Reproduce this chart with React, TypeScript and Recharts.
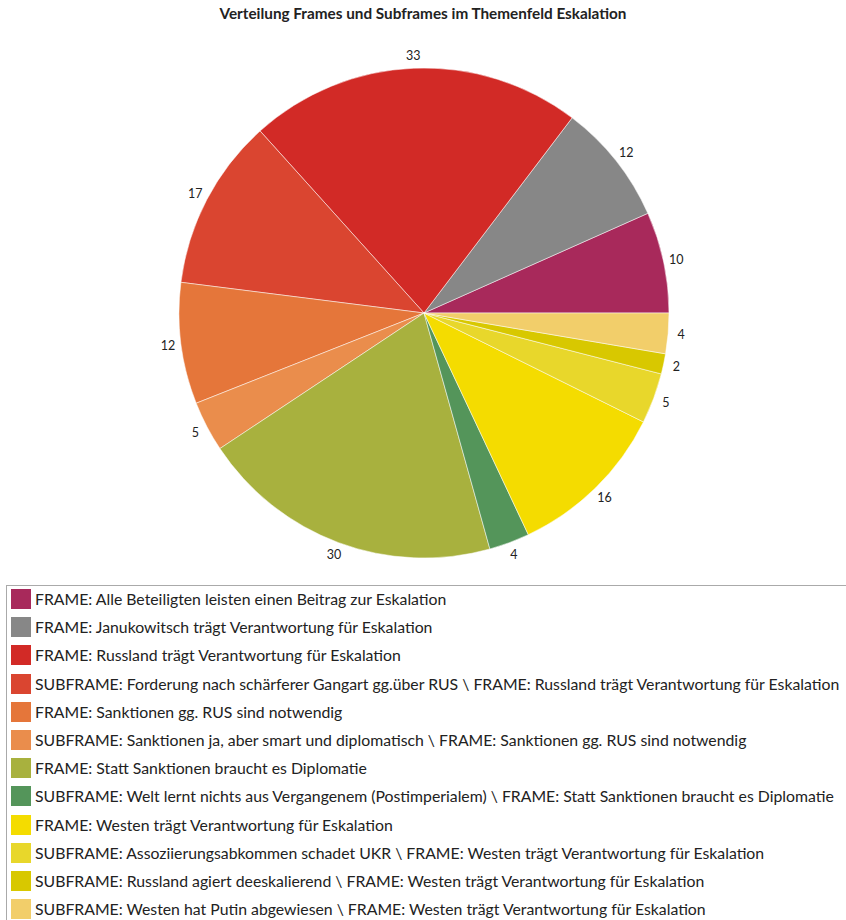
import React from "react";
import { PieChart, Pie, Cell } from "recharts";

const labels = [
  "FRAME: Alle Beteiligten leisten einen Beitrag zur Eskalation",
  "FRAME: Janukowitsch trägt Verantwortung für Eskalation",
  "FRAME: Russland trägt Verantwortung für Eskalation",
  "SUBFRAME: Forderung nach schärferer Gangart gg.über RUS \\ FRAME: Russland trägt Verantwortung für Eskalation",
  "FRAME: Sanktionen gg. RUS sind notwendig",
  "SUBFRAME: Sanktionen ja, aber smart und diplomatisch \\ FRAME: Sanktionen gg. RUS sind notwendig",
  "FRAME: Statt Sanktionen braucht es Diplomatie",
  "SUBFRAME: Welt lernt nichts aus Vergangenem (Postimperialem) \\ FRAME: Statt Sanktionen braucht es Diplomatie",
  "FRAME: Westen trägt Verantwortung für Eskalation",
  "SUBFRAME: Assoziierungsabkommen schadet UKR \\ FRAME: Westen trägt Verantwortung für Eskalation",
  "SUBFRAME: Russland agiert deeskalierend \\ FRAME: Westen trägt Verantwortung für Eskalation",
  "SUBFRAME: Westen hat Putin abgewiesen \\ FRAME: Westen trägt Verantwortung für Eskalation",
];
const values = [10, 12, 33, 17, 12, 5, 30, 4, 16, 5, 2, 4];
const colors = [
  "#A8295B", "#878787", "#D22A26", "#DA4530", "#E5763A", "#EA8D4C",
  "#A8B13E", "#54955A", "#F4DC00", "#E8D72B", "#D8C800", "#F2CE6A",
];

const data = labels.map((name, i) => ({ name, value: values[i] }));
const FONT = "Lato, 'Open Sans', sans-serif";
const RAD = Math.PI / 180;

const renderLabel = (p: any) => {
  const r = p.outerRadius + 13;
  const x = p.cx + r * Math.cos(-p.midAngle * RAD);
  const y = p.cy + r * Math.sin(-p.midAngle * RAD);
  return (
    <text x={x} y={y} textAnchor="middle" dominantBaseline="central" fontSize={12.5} fill="#222" fontFamily={FONT}>
      {p.value}
    </text>
  );
};

export default function App() {
  return (
    <div style={{ position: "absolute", top: 0, left: 0, width: 846, height: 920, background: "#fff", overflow: "hidden", fontFamily: FONT }}>
      <div style={{ position: "absolute", top: 4, left: 0, width: 846, textAlign: "center", fontWeight: 700, fontSize: 15.3, color: "#222" }}>
        Verteilung Frames und Subframes im Themenfeld Eskalation
      </div>
      <div style={{ position: "absolute", top: 0, left: 0 }}>
        <PieChart width={846} height={580} margin={{ top: 0, right: 0, bottom: 0, left: 0 }}>
          <Pie
            data={data}
            dataKey="value"
            nameKey="name"
            cx={424}
            cy={313}
            outerRadius={245}
            startAngle={0}
            endAngle={360}
            stroke="#ffffff"
            strokeWidth={0.5}
            label={renderLabel}
            labelLine={false}
            isAnimationActive={false}
          >
            {data.map((d, i) => (
              <Cell key={d.name} fill={colors[i]} />
            ))}
          </Pie>
        </PieChart>
      </div>
      <div style={{ position: "absolute", top: 585, left: 6, width: 846, height: 340, border: "1px solid #aaa", boxSizing: "border-box" }}>
        {data.map((d, i) => (
          <div key={d.name} style={{ position: "absolute", left: 4, top: 3 + i * 28.2, height: 20, display: "flex", alignItems: "center", whiteSpace: "nowrap" }}>
            <div style={{ width: 20, height: 20, background: colors[i], marginRight: 4 }} />
            <span style={{ fontSize: 15.8, color: "#222", lineHeight: "20px" }}>{d.name}</span>
          </div>
        ))}
      </div>
    </div>
  );
}
